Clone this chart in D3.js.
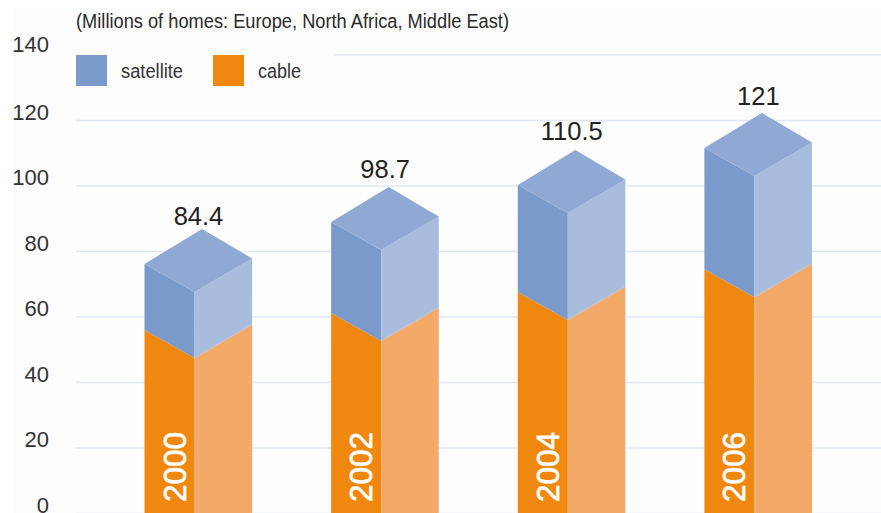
<!DOCTYPE html>
<html><head><meta charset="utf-8">
<script src="https://cdn.jsdelivr.net/npm/d3@7"></script>
<style>html,body{margin:0;padding:0;background:#fff;overflow:hidden}svg{display:block}text{font-family:"Liberation Sans",Arial,sans-serif}</style>
</head><body><svg id="c" width="881" height="513"></svg>
<script>
const years = ["2000","2002","2004","2006"];
const cable = [56, 61.2, 67.6, 74.6];
const satellite = [20.2, 27.8, 32.7, 37];
const totals = ["84.4","98.7","110.5","121"];
const ticks = [0,20,40,60,80,100,120,140];
const title = "(Millions of homes: Europe, North Africa, Middle East)";
const legendItems = ["satellite","cable"];

const W = 881, H = 513;
const y = d3.scaleLinear().domain([0,140]).range([513.5,55]);
const x = d3.scaleBand().domain(years).range([144.5,812]).paddingInner(0.4234).paddingOuter(0);
const svg = d3.select("#c");
const bw = x.bandwidth(), front = bw*0.465, drop = 28, rise = 33.5;

svg.append("rect").attr("x",13).attr("y",8).attr("width",W-13).attr("height",H-8).attr("fill","#fdfdfe");

const axis = d3.axisLeft(y).tickValues(ticks).tickSize(0).tickPadding(0);
const gAxis = svg.append("g").attr("transform","translate(49,0)").call(axis);
gAxis.select(".domain").remove();
gAxis.selectAll("text").attr("font-size",22).attr("fill","#333").attr("font-family","Liberation Sans")
  .attr("dy",null).attr("y",d=>d===140?-4:-1.5);

svg.append("g").selectAll("line").data(ticks).join("line")
  .attr("x1",76).attr("x2",W).attr("y1",d=>y(d)).attr("y2",d=>y(d))
  .attr("stroke","#e0e6f4").attr("stroke-width",1.5);

// legend sits over the 140 gridline
svg.append("rect").attr("x",70).attr("y",48).attr("width",263).attr("height",44).attr("fill","#fdfdfe");
const legendColors = ["#7b9bcc","#f0880f"], swatchX = [76,213], legText=[[121,62],[258,43]];
legendItems.forEach((t,i)=>{
  svg.append("rect").attr("x",swatchX[i]).attr("y",55).attr("width",31).attr("height",31).attr("fill",legendColors[i]);
  svg.append("text").attr("x",legText[i][0]).attr("y",78).attr("font-size",20).attr("fill","#333")
    .attr("textLength",legText[i][1]).attr("lengthAdjust","spacingAndGlyphs").text(t);
});
svg.append("text").attr("x",76).attr("y",28).attr("font-size",20).attr("fill","#2a2a2a")
  .attr("textLength",433).attr("lengthAdjust","spacingAndGlyphs").text(title);

const poly = pts => d3.line()(pts) + "Z";
years.forEach((yr,i)=>{
  const l = x(yr), m = l+front, r = l+bw;
  const yc = y(cable[i]), yt = y(cable[i]+satellite[i]), y0 = y(0);
  const g = svg.append("g");
  g.append("path").attr("fill","#f0880f").attr("d",poly([[l,yc],[m,yc+drop],[m,y0],[l,y0]]));
  g.append("path").attr("fill","#f3a968").attr("d",poly([[m,yc+drop],[r,yc+drop-rise],[r,y0],[m,y0]]));
  g.append("path").attr("fill","#7a9acb").attr("d",poly([[l,yt],[m,yt+drop],[m,yc+drop],[l,yc]]));
  g.append("path").attr("fill","#a8bcde").attr("d",poly([[m,yt+drop],[r,yt+drop-rise],[r,yc+drop-rise],[m,yc+drop]]));
  g.append("path").attr("fill","#8fa9d4").attr("d",poly([[l,yt],[l+bw*0.535,yt-35],[r,yt+drop-rise],[m,yt+drop]]));
  g.append("text").attr("transform",`translate(${l+41},502) rotate(-90)`)
    .attr("font-size",31.5).attr("fill","#fff").attr("stroke","#fff").attr("stroke-width",0.7).text(yr);
  g.append("text").attr("x",l+54).attr("y",y(+totals[i])-12).attr("text-anchor","middle")
    .attr("font-size",25.5).attr("fill","#222").text(totals[i]);
});
</script></body></html>
